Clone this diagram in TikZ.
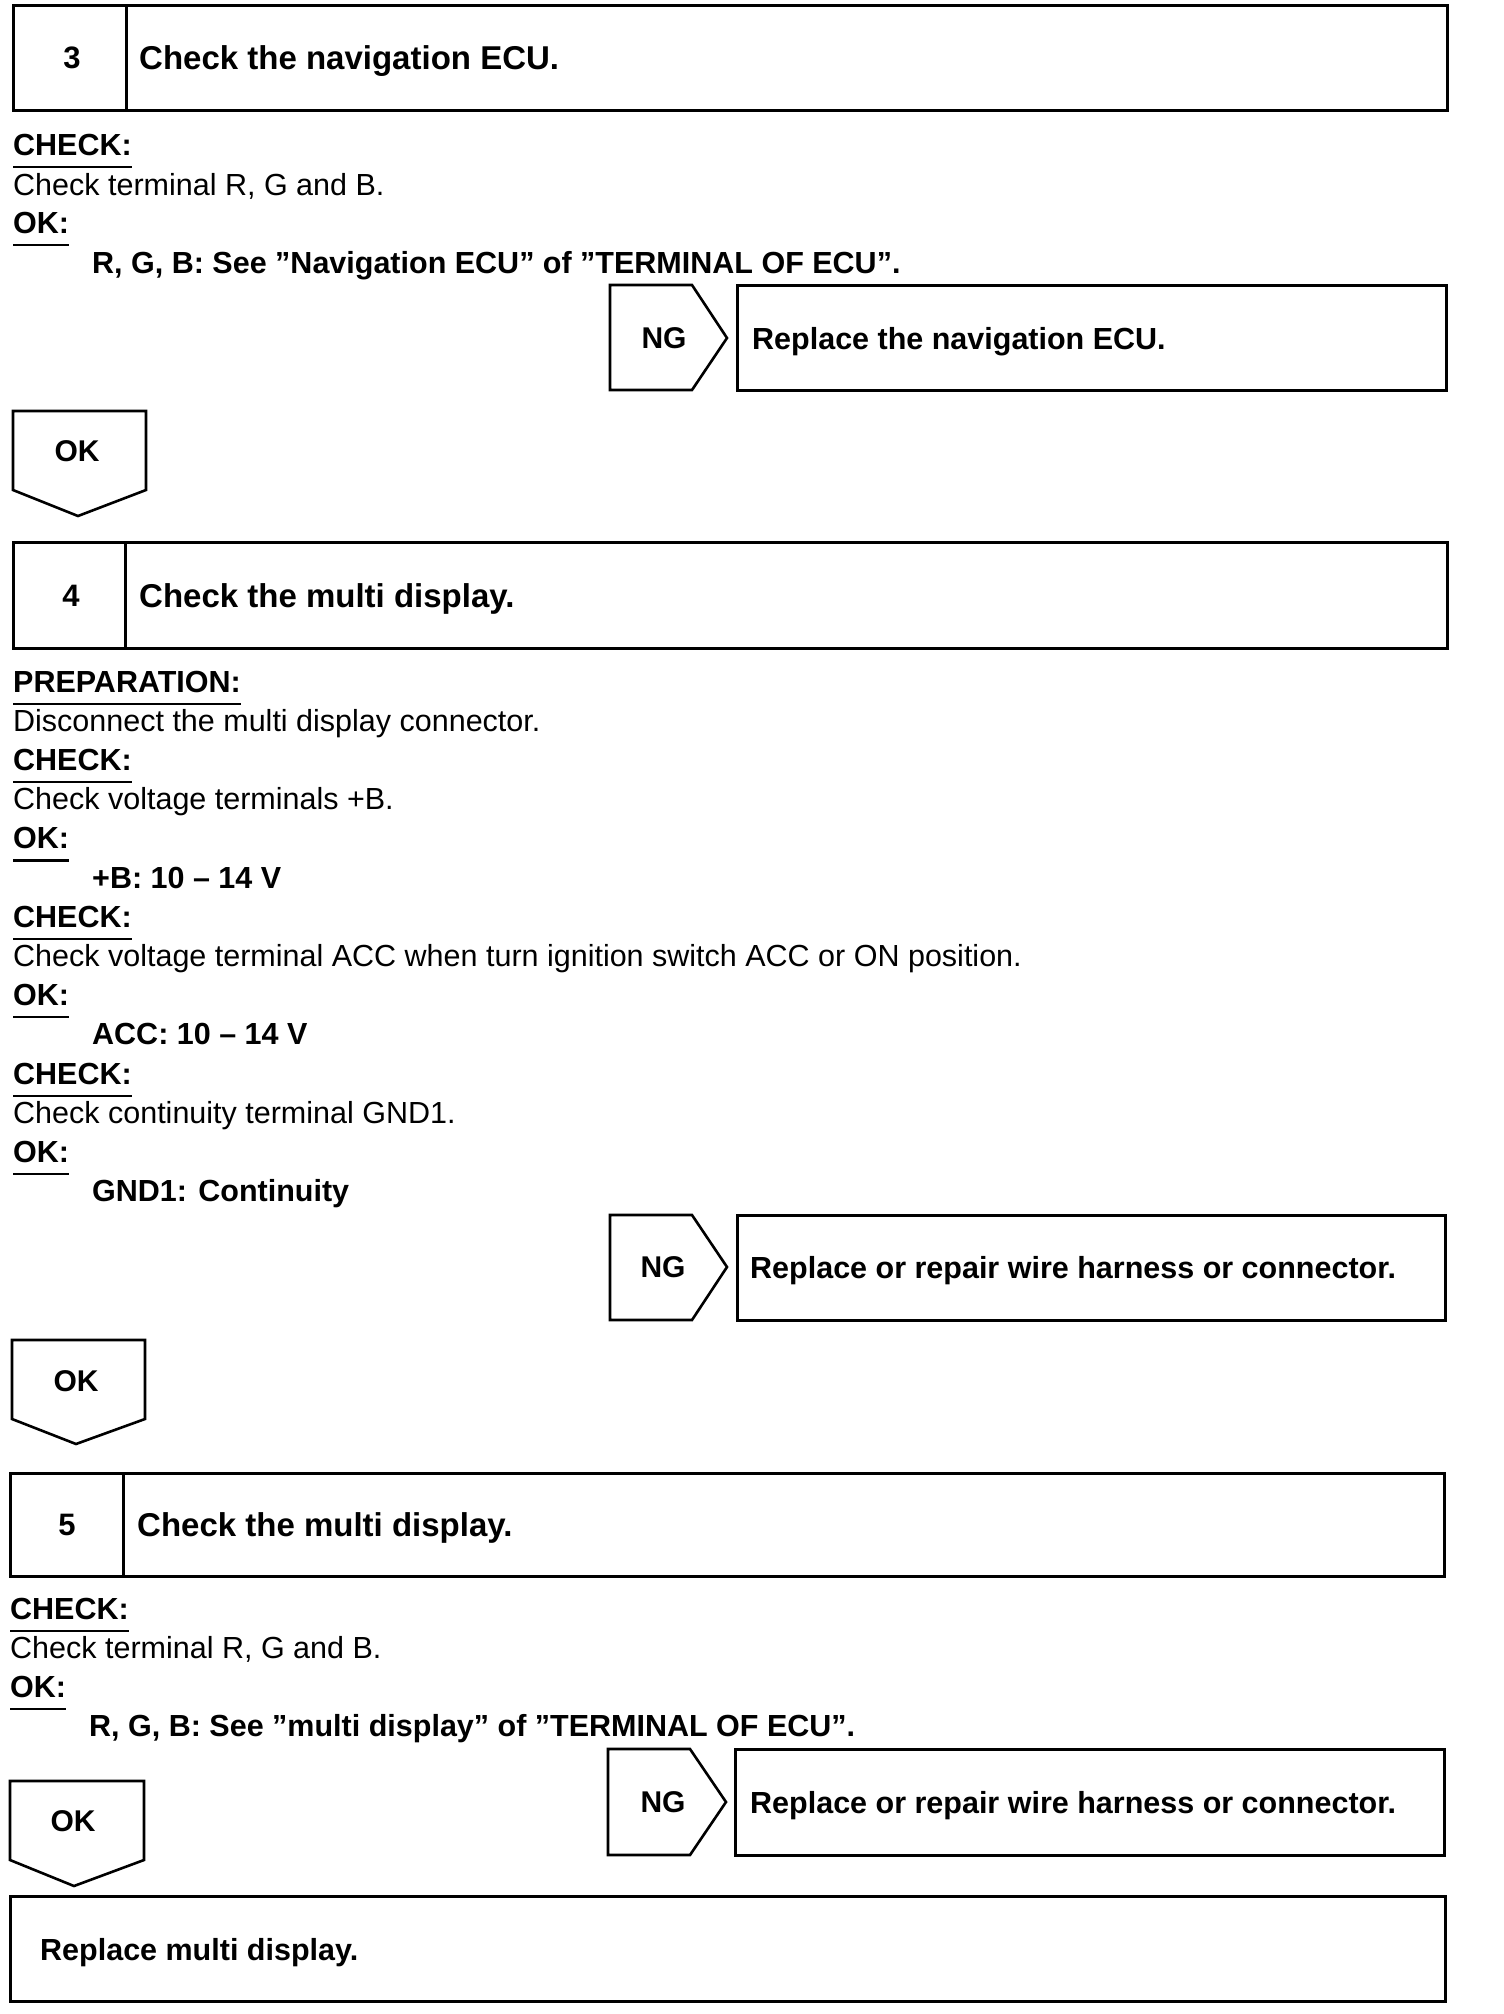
\documentclass[tikz,border=0pt]{standalone}
\usepackage{fontspec}
\setmainfont{Liberation Sans}
\newcommand\ulnode[1]{\draw[uline] ([yshift=-12pt]#1.base west) -- ([yshift=-12pt]#1.base east);}
\begin{document}
\begin{tikzpicture}[x=1pt,y=-1pt,
  box/.style={draw, line width=3pt},
  chev/.style={draw, line width=2.6pt, line join=miter},
  uline/.style={draw, line width=2.2pt},
  body/.style={anchor=base west, inner sep=0pt, font=\fontsize{30.5}{36}\selectfont},
  bodyb/.style={anchor=base west, inner sep=0pt, font=\fontsize{30.5}{36}\selectfont\bfseries},
  ttl/.style={anchor=base west, inner sep=0pt, font=\fontsize{33}{40}\selectfont\bfseries},
  num/.style={inner sep=0pt, font=\fontsize{31}{38}\selectfont\bfseries},
  lbl/.style={inner sep=0pt, font=\fontsize{30}{36}\selectfont\bfseries}]
\useasboundingbox (0,0) rectangle (1504,2014);

% ---------- Step 3 ----------
\draw[box] (13,5) rectangle (1447,110);
\draw[box] (126,5) -- (126,110);
\node[num] (n3) at (72,58) {3};
\node[ttl] (t3) at (139,69.8) {Check the navigation ECU.};
\node[bodyb] (c3h) at (13,155) {CHECK:}; \ulnode{c3h}
\node[body] (c3t) at (13,195) {Check terminal R, G and B.};
\node[bodyb] (o3h) at (13,233) {OK:}; \ulnode{o3h}
\node[bodyb] (o3t) at (92,273) {R, G, B: See ”Navigation ECU” of ”TERMINAL OF ECU”.};
\draw[chev] (610,285) -- (692,285) -- (727,338) -- (692,390) -- (610,390) -- cycle;
\node[lbl] (ng3) at (664,338) {NG};
\draw[box] (737,285) rectangle (1446,390);
\node[bodyb] (r3) at (752,349) {Replace the navigation ECU.};
\draw[chev] (13,411) -- (146,411) -- (146,490) -- (78,516) -- (13,490) -- cycle;
\node[lbl] (ok3) at (77,451) {OK};

% ---------- Step 4 ----------
\draw[box] (13,542) rectangle (1447,648);
\draw[box] (125,542) -- (125,648);
\node[num] (n4) at (71,596) {4};
\node[ttl] (t4) at (139,607.8) {Check the multi display.};
\node[bodyb] (p4h) at (13,692) {PREPARATION:}; \ulnode{p4h}
\node[body] (p4t) at (13,731) {Disconnect the multi display connector.};
\node[bodyb] (c4h) at (13,770) {CHECK:}; \ulnode{c4h}
\node[body] (c4t) at (13,809) {Check voltage terminals +B.};
\node[bodyb] (o4h) at (13,848.5) {OK:}; \ulnode{o4h}
\node[bodyb] (o4t) at (92,888) {+B: 10 – 14 V};
\node[bodyb] (c4bh) at (13,927) {CHECK:}; \ulnode{c4bh}
\node[body] (c4bt) at (13,966) {Check voltage terminal ACC when turn ignition switch ACC or ON position.};
\node[bodyb] (o4bh) at (13,1005) {OK:}; \ulnode{o4bh}
\node[bodyb] (o4bt) at (92,1044.5) {ACC: 10 – 14 V};
\node[bodyb] (c4ch) at (13,1084) {CHECK:}; \ulnode{c4ch}
\node[body] (c4ct) at (13,1123) {Check continuity terminal GND1.};
\node[bodyb] (o4ch) at (13,1162) {OK:}; \ulnode{o4ch}
\node[bodyb] (o4ct) at (92,1201) {GND1: Continuity};
\draw[chev] (610,1215) -- (692,1215) -- (727,1267) -- (692,1320) -- (610,1320) -- cycle;
\node[lbl] (ng4) at (663,1267) {NG};
\draw[box] (737,1215) rectangle (1445,1320);
\node[bodyb] (r4) at (750,1278) {Replace or repair wire harness or connector.};
\draw[chev] (12,1340) -- (145,1340) -- (145,1419) -- (76,1444) -- (12,1419) -- cycle;
\node[lbl] (ok4) at (76,1381) {OK};

% ---------- Step 5 ----------
\draw[box] (10,1473) rectangle (1444,1576);
\draw[box] (123,1473) -- (123,1576);
\node[num] (n5) at (67,1525) {5};
\node[ttl] (t5) at (137,1536.8) {Check the multi display.};
\node[bodyb] (c5h) at (10,1619) {CHECK:}; \ulnode{c5h}
\node[body] (c5t) at (10,1658) {Check terminal R, G and B.};
\node[bodyb] (o5h) at (10,1697) {OK:}; \ulnode{o5h}
\node[bodyb] (o5t) at (89,1736) {R, G, B: See ”multi display” of ”TERMINAL OF ECU”.};
\draw[chev] (608,1749) -- (690,1749) -- (726,1802) -- (690,1855) -- (608,1855) -- cycle;
\node[lbl] (ng5) at (663,1802) {NG};
\draw[box] (735,1749) rectangle (1444,1855);
\node[bodyb] (r5) at (750,1813) {Replace or repair wire harness or connector.};
\draw[chev] (10,1781) -- (144,1781) -- (144,1860) -- (74,1886) -- (10,1860) -- cycle;
\node[lbl] (ok5) at (73,1821) {OK};

% ---------- Final ----------
\draw[box] (10,1896) rectangle (1445,2001);
\node[bodyb] (fin) at (40,1960) {Replace multi display.};
\end{tikzpicture}
\end{document}
